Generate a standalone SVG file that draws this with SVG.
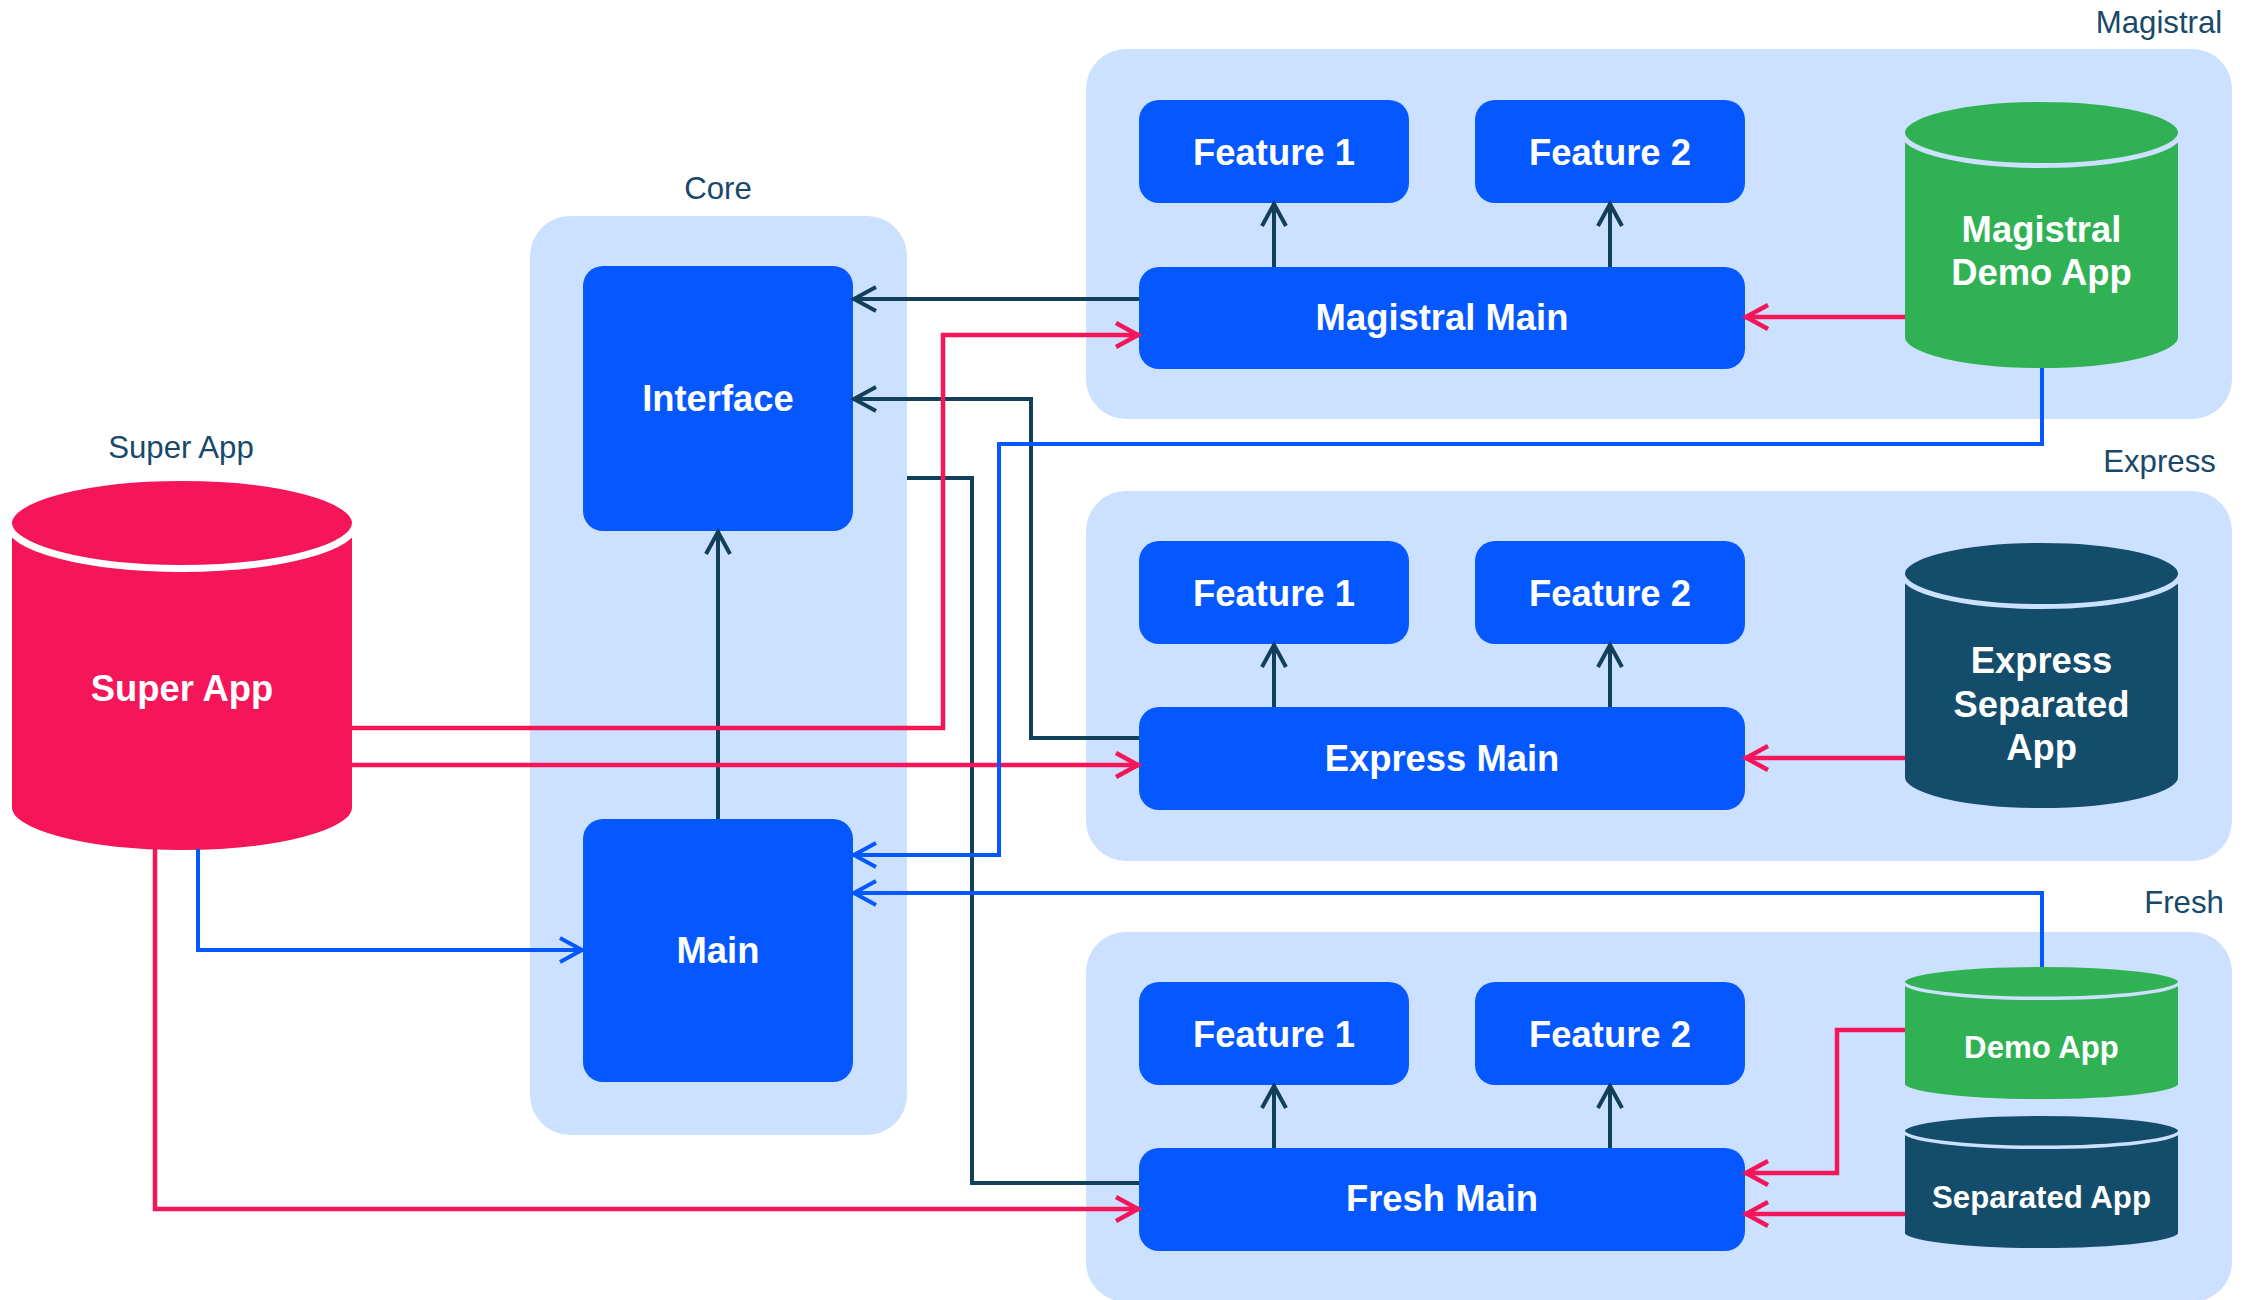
<svg xmlns="http://www.w3.org/2000/svg" width="2245" height="1300" viewBox="0 0 2245 1300">
<style>
.cont{fill:#cce0ff}
.box{fill:#0558ff}
.lbl{font-family:"Liberation Sans",Arial,Helvetica,sans-serif;font-size:31.2px;fill:#18486a;text-anchor:middle}
.bt{font-family:"Liberation Sans",Arial,Helvetica,sans-serif;font-size:36.4px;font-weight:bold;fill:#ffffff;text-anchor:middle}
.st{font-family:"Liberation Sans",Arial,Helvetica,sans-serif;font-size:31.2px;font-weight:bold;fill:#ffffff;text-anchor:middle}
.dk{fill:none;stroke:#123f5a;stroke-width:4}
.rd{fill:none;stroke:#f51559;stroke-width:4.5}
.bl{fill:none;stroke:#0558ff;stroke-width:4}
</style>
<defs>
<marker id="aDk" markerUnits="userSpaceOnUse" viewBox="-30 -18 34 36" refX="0" refY="0" markerWidth="34" markerHeight="36" orient="auto" overflow="visible"><path d="M-23,-12 L-1,0 L-23,12" fill="none" stroke="#123f5a" stroke-width="4"/></marker>
<marker id="aRd" markerUnits="userSpaceOnUse" viewBox="-30 -18 34 36" refX="0" refY="0" markerWidth="34" markerHeight="36" orient="auto" overflow="visible"><path d="M-23,-12 L-1,0 L-23,12" fill="none" stroke="#f51559" stroke-width="4.5"/></marker>
<marker id="aBl" markerUnits="userSpaceOnUse" viewBox="-30 -18 34 36" refX="0" refY="0" markerWidth="34" markerHeight="36" orient="auto" overflow="visible"><path d="M-23,-12 L-1,0 L-23,12" fill="none" stroke="#0558ff" stroke-width="4"/></marker>
</defs>
<rect width="2245" height="1300" fill="#ffffff"/>

<g id="core">
<rect class="cont" x="530" y="216" width="377" height="919" rx="40"/>
<text class="lbl" x="718" y="199">Core</text>
</g>
<g id="magistral">
<rect class="cont" x="1086" y="49" width="1146" height="370" rx="40"/>
<text class="lbl" x="2159" y="33">Magistral</text>
</g>
<g id="express">
<rect class="cont" x="1086" y="491" width="1146" height="370" rx="40"/>
<text class="lbl" x="2159.5" y="472">Express</text>
</g>
<g id="fresh">
<rect class="cont" x="1086" y="932" width="1146" height="370" rx="40"/>
<text class="lbl" x="2184" y="913">Fresh</text>
</g>

<g id="interface">
<rect class="box" x="583" y="266" width="270" height="265" rx="20"/>
<text class="bt" x="718" y="411">Interface</text>
</g>
<g id="main">
<rect class="box" x="583" y="819" width="270" height="263" rx="20"/>
<text class="bt" x="718" y="963">Main</text>
</g>

<g id="super-app">
<text class="lbl" x="181" y="458">Super App</text>
<path d="M8.5,523 A173.5,45.5 0 0 1 355.5,523 L355.5,808 A173.5,45.5 0 0 1 8.5,808 Z" fill="#f51559" stroke="#ffffff" stroke-width="7"/>
<path d="M8.5,523 A173.5,45.5 0 0 0 355.5,523" fill="none" stroke="#ffffff" stroke-width="7"/>
<text class="bt" x="182" y="701">Super App</text>
</g>

<g id="magistral-feature-1">
<rect class="box" x="1139" y="100" width="270" height="103" rx="20"/>
<text class="bt" x="1274" y="164.5">Feature 1</text>
</g>
<g id="magistral-feature-2">
<rect class="box" x="1475" y="100" width="270" height="103" rx="20"/>
<text class="bt" x="1610" y="164.5">Feature 2</text>
</g>
<g id="magistral-main">
<rect class="box" x="1139" y="267" width="606" height="102" rx="20"/>
<text class="bt" x="1442" y="330">Magistral Main</text>
</g>
<g id="magistral-demo-app">
<path d="M1902.5,132.5 A139,33 0 0 1 2180.5,132.5 L2180.5,337.5 A139,33 0 0 1 1902.5,337.5 Z" fill="#30b254" stroke="#cce0ff" stroke-width="5"/>
<path d="M1902.5,132.5 A139,33 0 0 0 2180.5,132.5" fill="none" stroke="#cce0ff" stroke-width="5"/>
<text class="bt" x="2041.5" y="242">Magistral</text>
<text class="bt" x="2041.5" y="285">Demo App</text>
</g>

<g id="express-feature-1">
<rect class="box" x="1139" y="541" width="270" height="103" rx="20"/>
<text class="bt" x="1274" y="605.5">Feature 1</text>
</g>
<g id="express-feature-2">
<rect class="box" x="1475" y="541" width="270" height="103" rx="20"/>
<text class="bt" x="1610" y="605.5">Feature 2</text>
</g>
<g id="express-main">
<rect class="box" x="1139" y="707" width="606" height="103" rx="20"/>
<text class="bt" x="1442" y="771">Express Main</text>
</g>
<g id="express-separated-app">
<path d="M1902.5,573.5 A139,33 0 0 1 2180.5,573.5 L2180.5,777.5 A139,33 0 0 1 1902.5,777.5 Z" fill="#144c6c" stroke="#cce0ff" stroke-width="5"/>
<path d="M1902.5,573.5 A139,33 0 0 0 2180.5,573.5" fill="none" stroke="#cce0ff" stroke-width="5"/>
<text class="bt" x="2041.5" y="673">Express</text>
<text class="bt" x="2041.5" y="717">Separated</text>
<text class="bt" x="2041.5" y="760">App</text>
</g>

<g id="fresh-feature-1">
<rect class="box" x="1139" y="982" width="270" height="103" rx="20"/>
<text class="bt" x="1274" y="1046.5">Feature 1</text>
</g>
<g id="fresh-feature-2">
<rect class="box" x="1475" y="982" width="270" height="103" rx="20"/>
<text class="bt" x="1610" y="1046.5">Feature 2</text>
</g>
<g id="fresh-main">
<rect class="box" x="1139" y="1148" width="606" height="103" rx="20"/>
<text class="bt" x="1442" y="1211">Fresh Main</text>
</g>
<g id="fresh-demo-app">
<path d="M1903.25,981.75 A138.25,16.5 0 0 1 2179.75,981.75 L2179.75,1084.25 A138.25,16.5 0 0 1 1903.25,1084.25 Z" fill="#30b254" stroke="#cce0ff" stroke-width="3.5"/>
<path d="M1903.25,981.75 A138.25,16.5 0 0 0 2179.75,981.75" fill="none" stroke="#cce0ff" stroke-width="3.5"/>
<text class="st" x="2041.5" y="1058">Demo App</text>
</g>
<g id="fresh-separated-app">
<path d="M1903.25,1130.75 A138.25,16.5 0 0 1 2179.75,1130.75 L2179.75,1233.25 A138.25,16.5 0 0 1 1903.25,1233.25 Z" fill="#144c6c" stroke="#cce0ff" stroke-width="3.5"/>
<path d="M1903.25,1130.75 A138.25,16.5 0 0 0 2179.75,1130.75" fill="none" stroke="#cce0ff" stroke-width="3.5"/>
<text class="st" x="2041.5" y="1208">Separated App</text>
</g>

<g id="connectors">
<path class="dk" d="M1139,299 L853,299" marker-end="url(#aDk)"/>
<path class="dk" d="M1139,738 L1031,738 L1031,399 L853,399" marker-end="url(#aDk)"/>
<path class="dk" d="M1139,1183 L972,1183 L972,478 L907,478"/>
<path class="dk" d="M718,819 L718,531" marker-end="url(#aDk)"/>
<path class="dk" d="M1274,267 L1274,203" marker-end="url(#aDk)"/>
<path class="dk" d="M1610,267 L1610,203" marker-end="url(#aDk)"/>
<path class="dk" d="M1274,707 L1274,644" marker-end="url(#aDk)"/>
<path class="dk" d="M1610,707 L1610,644" marker-end="url(#aDk)"/>
<path class="dk" d="M1274,1148 L1274,1085" marker-end="url(#aDk)"/>
<path class="dk" d="M1610,1148 L1610,1085" marker-end="url(#aDk)"/>
<path class="rd" d="M352,728 L943,728 L943,335 L1139,335" marker-end="url(#aRd)"/>
<path class="rd" d="M352,765 L1139,765" marker-end="url(#aRd)"/>
<path class="rd" d="M155,849 L155,1209 L1139,1209" marker-end="url(#aRd)"/>
<path class="rd" d="M1905,317 L1745,317" marker-end="url(#aRd)"/>
<path class="rd" d="M1905,758 L1745,758" marker-end="url(#aRd)"/>
<path class="rd" d="M1905,1030 L1837,1030 L1837,1173 L1745,1173" marker-end="url(#aRd)"/>
<path class="rd" d="M1905,1214 L1745,1214" marker-end="url(#aRd)"/>
<path class="bl" d="M2042,368 L2042,444 L999,444 L999,855 L853,855" marker-end="url(#aBl)"/>
<path class="bl" d="M2042,967 L2042,893 L853,893" marker-end="url(#aBl)"/>
<path class="bl" d="M198,849 L198,950 L583,950" marker-end="url(#aBl)"/>
</g>
</svg>
